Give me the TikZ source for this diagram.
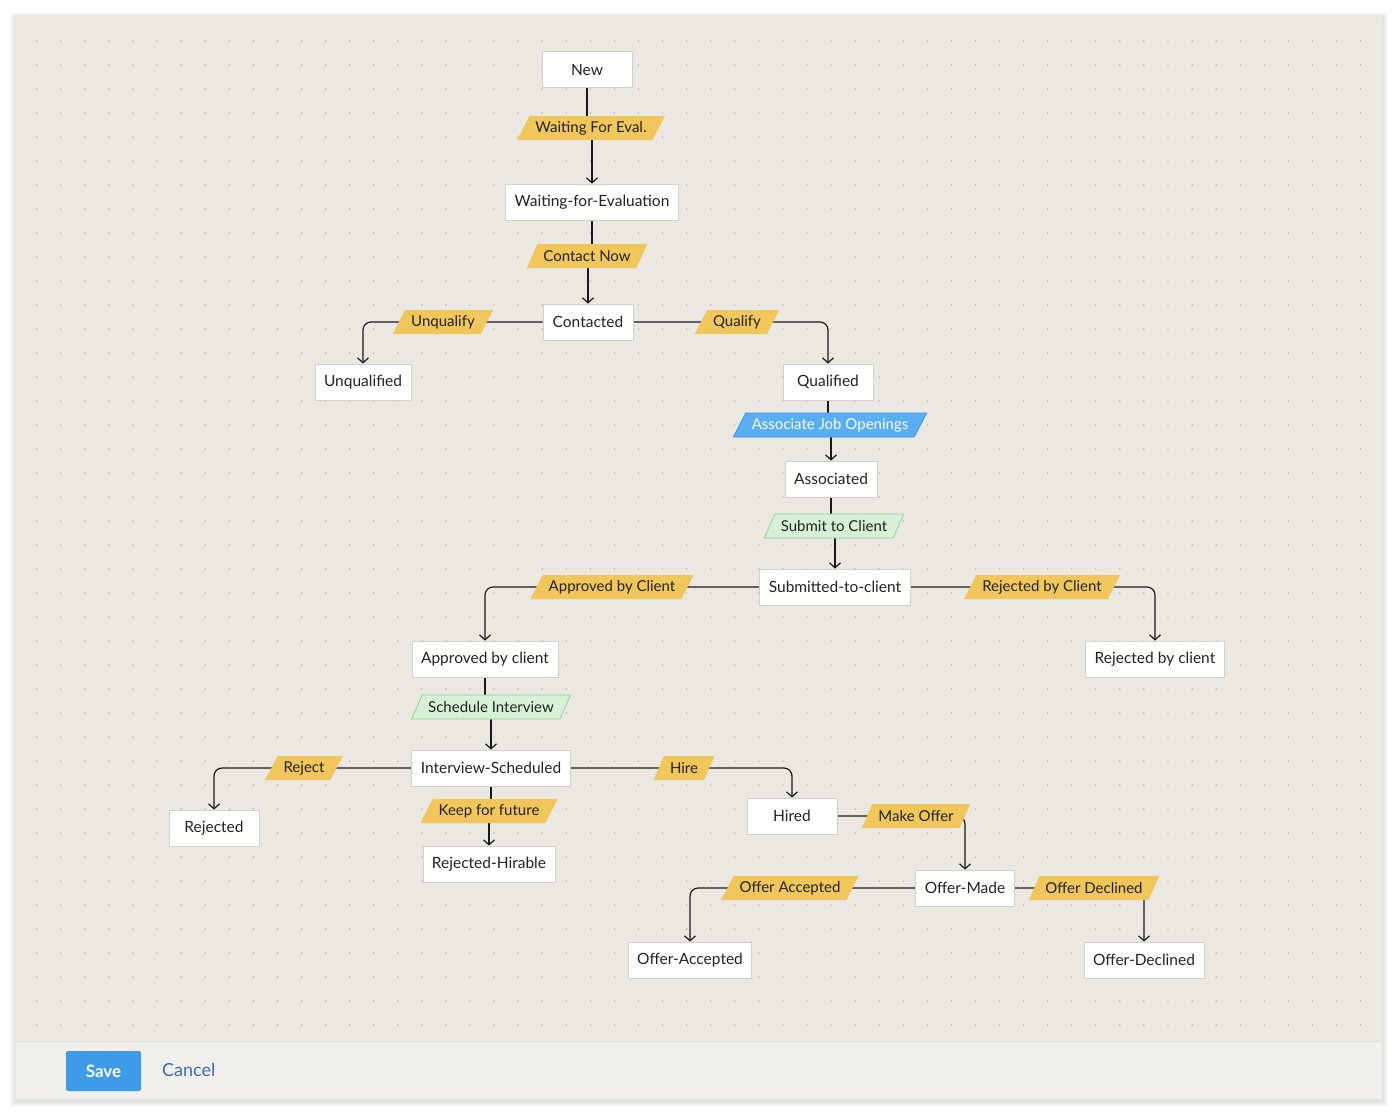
\documentclass[tikz,border=0pt]{standalone}
\usepackage{fontspec}
\setmainfont{Lato}
\usetikzlibrary{shapes.geometric,arrows.meta}
\pgfdeclarelayer{bg}
\pgfdeclarelayer{edges}
\pgfsetlayers{bg,edges,main}
\definecolor{panelbg}{HTML}{EBE8E2}
\definecolor{dotc}{HTML}{A09D96}
\definecolor{barbg}{HTML}{F3F1ED}
\definecolor{barline}{HTML}{DEDBD5}
\definecolor{lblY}{HTML}{F1C65B}
\definecolor{lblB}{HTML}{59ADF1}
\definecolor{lblBd}{HTML}{3F9BE6}
\definecolor{lblG}{HTML}{D6F1D6}
\definecolor{lblGd}{HTML}{8FD49B}
\definecolor{boxd}{HTML}{D3D1CC}
\definecolor{txt}{HTML}{222222}
\definecolor{savec}{HTML}{3D9BE8}
\definecolor{cancelc}{HTML}{3A6DB5}
\tikzset{
  state/.style={draw=boxd, line width=0.8pt, fill=white, minimum width=90pt,
    minimum height=36pt, inner xsep=9pt, font=\fontsize{15.5}{18}\selectfont, text=txt},
  act/.style={trapezium, trapezium left angle=55, trapezium right angle=125,
    trapezium stretches=true, minimum height=24pt, inner xsep=6pt, inner ysep=2pt,
    font=\fontsize{15}{17}\selectfont, text=txt},
  actY/.style={act, fill=lblY},
  actB/.style={act, fill=lblB, draw=lblBd, line width=0.8pt, text=white},
  actG/.style={act, fill=lblG, draw=lblGd, line width=0.8pt},
  link/.style={line width=1.2pt, draw=black!90, rounded corners=8pt},
  arr/.style={link, -{Straight Barb[length=5pt,width=11pt,line width=1.2pt]}},
}
\begin{document}
\begin{tikzpicture}[x=1pt,y=-1pt]
\useasboundingbox (0,0) rectangle (1400,1114);
\begin{pgfonlayer}{bg}
  \fill[white] (0,0) rectangle (1400,1114);
  \foreach \k in {1,...,6}
    \fill[black, opacity=0.018] (16-\k,16-\k+2) rectangle (1382+\k,1099+\k+2);
  \fill[panelbg] (16,16) rectangle (1382,1099);
  \foreach \i in {0,...,55}
    \foreach \j in {0,...,43}
      \fill[dotc] (36.7+24.07*\i, 41+24*\j) circle (0.7pt);
  \fill[barbg, opacity=0.85] (16,1041) rectangle (1382,1099);
  \draw[barline, line width=1pt] (16,1041) -- (1382,1041);
\end{pgfonlayer}

% states
\node[state] (new) at (587,69.5) {New};
\node[state] (wfe) at (592,202) {Waiting-for-Evaluation};
\node[state] (contacted) at (588,322) {Contacted};
\node[state] (unq) at (363,382) {Unqualified};
\node[state] (qual) at (828,382) {Qualified};
\node[state] (assoc) at (831,479) {Associated};
\node[state] (subm) at (835,587) {Submitted-to-client};
\node[state] (appr) at (485,659) {Approved by client};
\node[state] (rejc) at (1155,659) {Rejected by client};
\node[state] (intv) at (491,768) {Interview-Scheduled};
\node[state] (rej) at (214,828) {Rejected};
\node[state] (hired) at (792,816) {Hired};
\node[state] (rejh) at (489,864) {Rejected-Hirable};
\node[state] (omade) at (965,888) {Offer-Made};
\node[state] (oacc) at (690,960) {Offer-Accepted};
\node[state] (odec) at (1144,960) {Offer-Declined};

% actions
\node[actY] (lWFE) at (591,128) {Waiting For Eval.};
\node[actY] (lCN) at (587,256) {Contact Now};
\node[actY] (lUnq) at (443,322) {Unqualify};
\node[actY] (lQ) at (737,322) {Qualify};
\node[actB] (lAJO) at (830,425) {Associate Job Openings};
\node[actG] (lSTC) at (834,526) {Submit to Client};
\node[actY] (lABC) at (612,587) {Approved by Client};
\node[actY] (lRBC) at (1042,587) {Rejected by Client};
\node[actG] (lSI) at (491,707) {Schedule Interview};
\node[actY] (lRej) at (304,768) {Reject};
\node[actY] (lHire) at (684,768) {Hire};
\node[actY] (lKFF) at (489,811) {Keep for future};
\node[actY] (lMO) at (916,816) {Make Offer};
\node[actY] (lOA) at (790,888) {Offer Accepted};
\node[actY] (lOD) at (1094,888) {Offer Declined};

\begin{pgfonlayer}{edges}
  \draw[link] (new.south) -- (new.south |- lWFE.center);
  \draw[arr] (wfe.north |- lWFE.center) -- (wfe.north);
  \draw[link] (wfe.south) -- (wfe.south |- lCN.center);
  \draw[arr] (contacted.north |- lCN.center) -- (contacted.north);
  \draw[arr] (contacted.west) -| (unq.north);
  \draw[arr] (contacted.east) -| (qual.north);
  \draw[link] (qual.south) -- (qual.south |- lAJO.center);
  \draw[arr] (assoc.north |- lAJO.center) -- (assoc.north);
  \draw[link] (assoc.south) -- (assoc.south |- lSTC.center);
  \draw[arr] (subm.north |- lSTC.center) -- (subm.north);
  \draw[arr] (subm.west) -| (appr.north);
  \draw[arr] (subm.east) -| (rejc.north);
  \draw[link] (appr.south) -- (appr.south |- lSI.center);
  \draw[arr] (intv.north |- lSI.center) -- (intv.north);
  \draw[arr] (intv.west) -| (rej.north);
  \draw[arr] (intv.east) -| (hired.north);
  \draw[link] (intv.south) -- (intv.south |- lKFF.center);
  \draw[arr] (rejh.north |- lKFF.center) -- (rejh.north);
  \draw[arr] (hired.east) -| (omade.north);
  \draw[arr] (omade.west) -| (oacc.north);
  \draw[arr] (omade.east) -| (odec.north);
\end{pgfonlayer}

% footer
\node[fill=savec, rounded corners=2pt, minimum width=75pt, minimum height=40pt,
  text=white, font=\fontsize{17}{20}\selectfont\bfseries] (save) at (103.5,1071) {Save};
\node[text=cancelc, font=\fontsize{18}{21}\selectfont, anchor=west, inner xsep=0pt] (cancel) at (162,1070) {Cancel};
\end{tikzpicture}
\end{document}
